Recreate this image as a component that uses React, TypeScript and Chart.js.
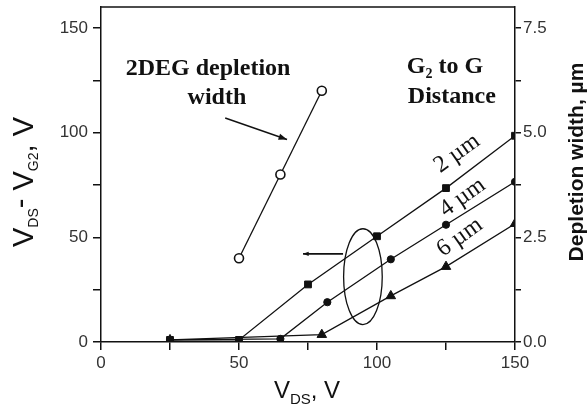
import React, { useEffect, useRef } from "react";
import { Chart, registerables } from "chart.js";

Chart.register(...registerables);

// ---- data ----
const deg2X = [50, 65, 80];
const deg2Width = [2.0, 4.0, 6.0]; // µm, right axis

const s2X = [25, 50, 75, 100, 125, 150];
const s2Y = [1, 1, 27.5, 50.5, 73.5, 98.5];

const s4X = [25, 65, 82, 105, 125, 150];
const s4Y = [1, 1.5, 19, 39.5, 56, 76.5];

const s6X = [25, 80, 105, 125, 150];
const s6Y = [1, 3.5, 22, 36, 56.5];

const xTicks = [0, 50, 100, 150];
const yTicks = [0, 50, 100, 150];
const y2Ticks = [0, 2.5, 5, 7.5];

const seriesLabels = ["2 \u00B5m", "4 \u00B5m", "6 \u00B5m"];

const pts = (xs: number[], ys: number[]) => xs.map((x, i) => ({ x, y: ys[i] }));

const SANS = "'Liberation Sans', Arial, sans-serif";
const SERIF = "'Liberation Serif', 'Times New Roman', serif";

function arrow(ctx: CanvasRenderingContext2D, x1: number, y1: number, x2: number, y2: number, head: number) {
  ctx.beginPath();
  ctx.moveTo(x1, y1);
  ctx.lineTo(x2, y2);
  ctx.stroke();
  const a = Math.atan2(y2 - y1, x2 - x1);
  ctx.beginPath();
  ctx.moveTo(x2, y2);
  ctx.lineTo(x2 - head * Math.cos(a - 0.35), y2 - head * Math.sin(a - 0.35));
  ctx.lineTo(x2 - head * Math.cos(a + 0.35), y2 - head * Math.sin(a + 0.35));
  ctx.closePath();
  ctx.fill();
}

type Piece = { t: string; font: string; dy: number };
function drawPieces(ctx: CanvasRenderingContext2D, pieces: Piece[]) {
  let total = 0;
  for (const p of pieces) {
    ctx.font = p.font;
    total += ctx.measureText(p.t).width;
  }
  let x = -total / 2;
  ctx.textAlign = "left";
  ctx.textBaseline = "alphabetic";
  for (const p of pieces) {
    ctx.font = p.font;
    ctx.fillText(p.t, x, p.dy);
    x += ctx.measureText(p.t).width;
  }
}

const decorPlugin = {
  id: "decor",
  afterDraw(chart: any) {
    const ctx: CanvasRenderingContext2D = chart.ctx;
    const xs = chart.scales.x;
    const ys = chart.scales.y;
    const ca = chart.chartArea;
    const px = (v: number) => xs.getPixelForValue(v);
    const py = (v: number) => ys.getPixelForValue(v);
    ctx.save();
    ctx.strokeStyle = "#111";
    ctx.fillStyle = "#111";
    // top frame line
    ctx.lineWidth = 1.5;
    ctx.beginPath();
    ctx.moveTo(ca.left, ca.top);
    ctx.lineTo(ca.right, ca.top);
    ctx.stroke();

    // annotation texts
    ctx.textAlign = "center";
    ctx.textBaseline = "middle";
    ctx.font = `bold 24px ${SERIF}`;
    ctx.fillText("2DEG depletion", px(38.8), py(130.6));
    ctx.fillText("width", px(42), py(116.8));

    // G2 to G
    ctx.save();
    ctx.translate(px(124.6), py(132.3) + 8);
    drawPieces(ctx, [
      { t: "G", font: `bold 24px ${SERIF}`, dy: 0 },
      { t: "2", font: `bold 14px ${SERIF}`, dy: 5 },
      { t: " to G", font: `bold 24px ${SERIF}`, dy: 0 },
    ]);
    ctx.restore();
    ctx.textAlign = "center";
    ctx.textBaseline = "middle";
    ctx.font = `bold 24px ${SERIF}`;
    ctx.fillText("Distance", px(127.1), py(117));

    // arrow to 2DEG curve
    ctx.lineWidth = 1.4;
    arrow(ctx, px(45), py(107), px(67.4), py(96.7), 9);

    // series labels along lines
    const labPos = [
      [129, 90],
      [131, 69],
      [130, 50],
    ];
    ctx.font = `24px ${SERIF}`;
    seriesLabels.forEach((t, i) => {
      ctx.save();
      ctx.translate(px(labPos[i][0]), py(labPos[i][1]));
      ctx.rotate(-0.62);
      ctx.textAlign = "center";
      ctx.textBaseline = "middle";
      ctx.fillText(t, 0, 0);
      ctx.restore();
    });

    // ellipse + arrow pointing to left axis
    ctx.lineWidth = 1.3;
    const cx = px(94.9);
    const cy = py(31.2);
    const rx = px(94.9) - px(87.9);
    const ry = py(8.3) - py(31.2);
    ctx.beginPath();
    ctx.ellipse(cx, cy, Math.abs(rx), Math.abs(ry), 0, 0, Math.PI * 2);
    ctx.stroke();
    ctx.lineWidth = 1.6;
    arrow(ctx, px(87.7), py(42.1), px(73.2), py(42.1), 6);

    // axis titles
    // left
    ctx.save();
    ctx.translate(33, 182);
    ctx.rotate(-Math.PI / 2);
    drawPieces(ctx, [
      { t: "V", font: `29px ${SANS}`, dy: 0 },
      { t: "DS", font: `14px ${SANS}`, dy: 5 },
      { t: "- ", font: `29px ${SANS}`, dy: -3 },
      { t: "V", font: `29px ${SANS}`, dy: 0 },
      { t: "G2", font: `14px ${SANS}`, dy: 5 },
      { t: ", V", font: `29px ${SANS}`, dy: 0 },
    ]);
    ctx.restore();

    // bottom
    ctx.save();
    ctx.translate(307, 398);
    drawPieces(ctx, [
      { t: "V", font: `24px ${SANS}`, dy: 0 },
      { t: "DS", font: `15px ${SANS}`, dy: 6 },
      { t: ", V", font: `24px ${SANS}`, dy: 0 },
    ]);
    ctx.restore();

    // right
    ctx.save();
    ctx.translate(583, 162);
    ctx.rotate(-Math.PI / 2);
    ctx.textAlign = "center";
    ctx.textBaseline = "alphabetic";
    ctx.font = `bold 21px ${SANS}`;
    ctx.fillText("Depletion width, \u00B5m", 0, 0);
    ctx.restore();

    ctx.restore();
  },
};

export default function App() {
  const ref = useRef<HTMLCanvasElement | null>(null);
  useEffect(() => {
    if (!ref.current) return;
    const lineDs = (data: any[], style: string, r: number, extra: any = {}) => ({
      data,
      showLine: true,
      borderColor: "#111",
      borderWidth: 1.3,
      backgroundColor: "#111",
      pointBackgroundColor: "#111",
      pointBorderColor: "#111",
      pointBorderWidth: 1,
      pointStyle: style,
      pointRadius: r,
      yAxisID: "y",
      ...extra,
    });
    const tickFont = { family: "'Liberation Sans', Arial, sans-serif", size: 17 };
    const noPadV = (s: any) => {
      s.paddingTop = 0;
      s.paddingBottom = 0;
    };
    const chart = new Chart(ref.current, {
      type: "scatter",
      data: {
        datasets: [
          lineDs(pts(deg2X, deg2Width), "circle", 4.5, {
            yAxisID: "y2",
            pointBackgroundColor: "#fff",
            pointBorderWidth: 1.6,
          }),
          lineDs(pts(s2X, s2Y), "rect", 4.8),
          lineDs(pts(s4X, s4Y), "circle", 3.6),
          lineDs(pts(s6X, s6Y), "triangle", 5.5),
        ],
      },
      options: {
        responsive: false,
        animation: false,
        devicePixelRatio: 1,
        layout: { padding: { top: 7, left: 0, right: 0, bottom: 0 } },
        plugins: { legend: { display: false }, tooltip: { enabled: false } },
        scales: {
          x: {
            type: "linear",
            min: 0,
            max: 150,
            afterBuildTicks: (s: any) => {
              s.ticks = [0, 25, 50, 75, 100, 125, 150].map((v) => ({ value: v }));
            },
            ticks: {
              font: tickFont,
              color: "#333",
              padding: 3,
              maxRotation: 0,
              callback: (v: any) => (xTicks.includes(Number(v)) ? String(v) : ""),
            },
            grid: { drawOnChartArea: false, drawTicks: true, tickLength: 8, color: "#111", lineWidth: 1.5 },
            border: { color: "#111", width: 1.5 },
            afterFit: (s: any) => {
              s.height = 69;
              s.paddingLeft = 0;
              s.paddingRight = 0;
            },
          },
          y: {
            type: "linear",
            position: "left",
            min: 0,
            max: 160,
            afterBuildTicks: (s: any) => {
              s.ticks = [0, 25, 50, 75, 100, 125, 150].map((v) => ({ value: v }));
            },
            ticks: {
              font: tickFont,
              color: "#333",
              padding: 5,
              callback: (v: any) => (yTicks.includes(Number(v)) ? String(v) : ""),
            },
            grid: { drawOnChartArea: false, drawTicks: true, tickLength: 8, color: "#111", lineWidth: 1.5 },
            border: { color: "#111", width: 1.5 },
            afterFit: (s: any) => {
              s.width = 101;
              noPadV(s);
            },
          },
          y2: {
            type: "linear",
            position: "right",
            min: 0,
            max: 8,
            afterBuildTicks: (s: any) => {
              s.ticks = [0, 1.25, 2.5, 3.75, 5, 6.25, 7.5].map((v) => ({ value: v }));
            },
            ticks: {
              font: tickFont,
              color: "#333",
              padding: 2,
              callback: (v: any) => (y2Ticks.includes(Number(v)) ? Number(v).toFixed(1) : ""),
            },
            grid: { drawOnChartArea: false, drawTicks: true, tickLength: 6, color: "#111", lineWidth: 1.5 },
            border: { color: "#111", width: 1.5 },
            afterFit: (s: any) => {
              s.width = 72;
              noPadV(s);
            },
          },
        },
      } as any,
      plugins: [decorPlugin],
    });
    return () => chart.destroy();
  }, []);
  return (
    <div style={{ position: "absolute", left: 0, top: 0, width: 587, height: 411, background: "#fff" }}>
      <canvas ref={ref} width={587} height={411} style={{ width: 587, height: 411 }} />
    </div>
  );
}
